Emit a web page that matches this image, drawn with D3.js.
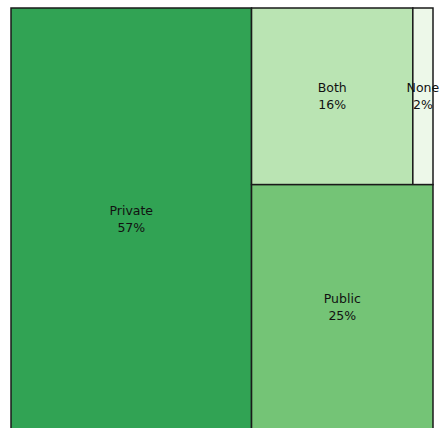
<!DOCTYPE html>
<html>
<head>
<meta charset="utf-8">
<script src="https://cdn.jsdelivr.net/npm/d3@7"></script>
<style>
  body { margin: 0; background: #fff; }
  text { font-family: "DejaVu Sans", sans-serif; font-size: 12.5px; fill: #111; }
</style>
</head>
<body>
<svg width="443" height="428"></svg>
<script>
// shares of the total, in percent
const categories = ["Private", "Both", "None", "Public"]
const values = [57, 16, 2, 25]
const colors = ["#31a354", "#bae4b3", "#edf8e9", "#74c476"]

const leaf = i => ({ name: categories[i], value: values[i], color: colors[i] })

// Private | (Both None) / Public
const tree = {
    name: "root",
    children: [
        leaf(0),
        { name: "rest", children: [
            { name: "top", children: [leaf(1), leaf(2)] },
            leaf(3)
        ] }
    ]
}

// bottom edge runs just past the window, like the original
var svg = d3.select("svg"),
    margin = { top: 8, right: 10, bottom: -2, left: 11 },
    width = +svg.attr("width") - margin.left - margin.right,
    height = +svg.attr("height") - margin.top - margin.bottom,
    g = svg.append("g").attr("transform", "translate(" + margin.left + "," + margin.top + ")");

let root = d3.hierarchy(tree).sum(d => d.value || 0)

d3.treemap()
    .tile(d3.treemapSliceDice)
    .size([width, height])
    .padding(0)(root)

let total = root.value

let cell = g.selectAll(".cell")
    .data(root.leaves())
    .enter().append("g")
    .attr("class", "cell")

cell.append("rect")
    .attr("x", d => d.x0)
    .attr("y", d => d.y0)
    .attr("width", d => d.x1 - d.x0)
    .attr("height", d => d.y1 - d.y0)
    .attr("fill", d => d.data.color)
    .attr("stroke", "#1a1a1a")
    .attr("stroke-width", 1.5)

let label = cell.append("text")
    .attr("text-anchor", "middle")
    .attr("transform", d => "translate(" + (d.x0 + d.x1) / 2 + "," + (d.y0 + d.y1) / 2 + ")")

label.append("tspan")
    .attr("x", 0)
    .attr("dy", "-0.35em")
    .text(d => d.data.name)

label.append("tspan")
    .attr("x", 0)
    .attr("dy", "1.35em")
    .text(d => Math.round(d.value / total * 100) + "%")
</script>
</body>
</html>
